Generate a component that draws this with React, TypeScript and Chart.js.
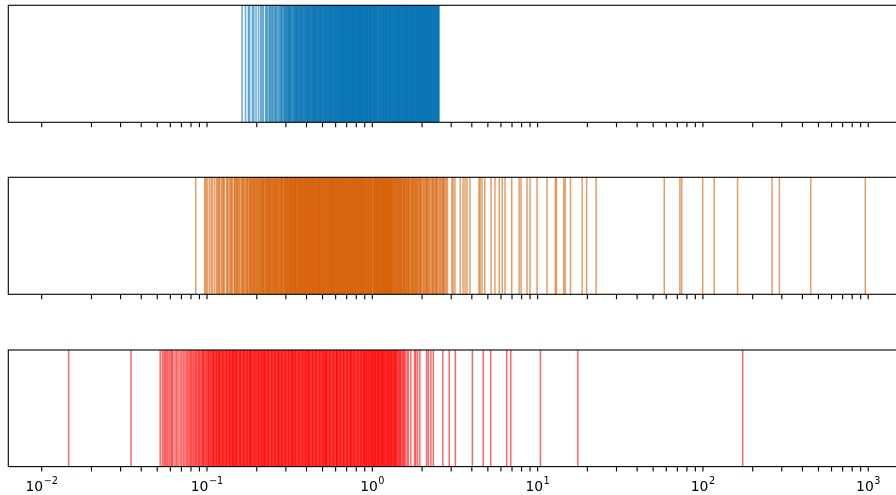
import React, { useEffect, useRef } from "react";
import { Chart, registerables } from "chart.js";

Chart.register(...registerables);

// ---- axis limits & ticks ----
const X_MIN = 0.00628;
const X_MAX = 1669;
const MAJOR_TICKS = [0.01, 0.1, 1, 10, 100, 1000];
const MAJOR_EXPONENTS = ["\u22122", "\u22121", "0", "1", "2", "3"];
const MINOR_MULTIPLIERS = [2, 3, 4, 5, 6, 7, 8, 9];
const MINOR_DECADES = [0.01, 0.1, 1, 10, 100];

// ---- event data ----
const blueEvents = [
  0.163, 0.171, 0.178, 0.181, 0.188, 0.192, 0.205, 0.211, 0.219, 0.226, 0.233, 0.238, 0.244, 0.251,
  0.256, 0.262, 0.271, 0.279, 0.284, 0.292, 0.297, 0.305, 0.311, 0.318, 0.323, 0.331, 0.337, 0.342,
  0.349, 0.356, 0.361, 0.368, 0.374, 0.379, 0.386, 0.393, 0.401, 0.408, 0.412, 0.419, 0.427, 0.433,
  0.441, 0.447, 0.452, 0.461, 0.468, 0.473, 0.482, 0.489, 0.494, 0.503, 0.511, 0.518, 0.524, 0.533,
  0.541, 0.547, 0.556, 0.562, 0.571, 0.578, 0.586, 0.593, 0.601, 0.612, 0.619, 0.627, 0.634, 0.643,
  0.651, 0.658, 0.667, 0.676, 0.684, 0.692, 0.703, 0.711, 0.719, 0.728, 0.737, 0.745, 0.756, 0.764,
  0.773, 0.781, 0.792, 0.801, 0.812, 0.823, 0.831, 0.842, 0.853, 0.861, 0.872, 0.884, 0.893, 0.905,
  0.917, 0.926, 0.938, 0.951, 0.962, 0.974, 0.985, 0.997, 1.01, 1.03, 1.04, 1.06, 1.07, 1.09, 1.11,
  1.12, 1.14, 1.16, 1.17, 1.19, 1.21, 1.22, 1.24, 1.26, 1.28, 1.29, 1.31, 1.33, 1.35, 1.37, 1.39,
  1.41, 1.43, 1.45, 1.47, 1.49, 1.52, 1.54, 1.56, 1.58, 1.61, 1.63, 1.65, 1.68, 1.71, 1.73, 1.76,
  1.78, 1.81, 1.84, 1.86, 1.89, 1.92, 1.95, 1.98, 2.01, 2.04, 2.07, 2.11, 2.14, 2.17, 2.21, 2.24,
  2.28, 2.31, 2.35, 2.39, 2.43, 2.47, 2.51, 2.53,
  0.288, 0.301, 0.314, 0.327, 0.345, 0.352, 0.365, 0.371, 0.383, 0.397, 0.404, 0.415, 0.423, 0.436,
  0.444, 0.457, 0.464, 0.478, 0.486, 0.498, 0.507, 0.515, 0.528, 0.537, 0.551, 0.559, 0.567, 0.582,
  0.589, 0.597, 0.606, 0.615, 0.623, 0.638, 0.647, 0.655, 0.663, 0.672, 0.681, 0.688, 0.697, 0.707,
  0.715, 0.724, 0.732, 0.741, 0.751, 0.76, 0.769, 0.777, 0.786, 0.796, 0.806, 0.817, 0.827, 0.836,
  0.847, 0.857, 0.866, 0.878, 0.889, 0.899, 0.911, 0.921, 0.932, 0.944, 0.956, 0.968, 0.979, 0.991,
  1.005, 1.02, 1.035, 1.05, 1.065, 1.08, 1.1, 1.115, 1.13, 1.15, 1.165, 1.18, 1.2, 1.215, 1.23, 1.25,
  1.27, 1.285, 1.3, 1.32, 1.34, 1.36, 1.38, 1.4, 1.42, 1.44, 1.46, 1.48, 1.505, 1.53, 1.55, 1.57,
  1.595, 1.62, 1.64, 1.665, 1.69, 1.72, 1.745, 1.77, 1.795, 1.825, 1.85, 1.875, 1.905, 1.935, 1.965,
  1.995, 2.025, 2.055, 2.09, 2.125, 2.155, 2.19, 2.225, 2.26, 2.295, 2.33, 2.37, 2.41, 2.45, 2.49,
  2.52,
  0.198, 0.215, 0.229, 0.241, 0.248, 0.259, 0.266, 0.275, 0.282, 0.295, 0.303, 0.309, 0.316, 0.321,
  0.334, 0.339, 0.347, 0.354, 0.363, 0.376, 0.389, 0.395, 0.406, 0.417, 0.429, 0.439, 0.449, 0.455,
  0.471, 0.484, 0.492, 0.509, 0.521, 0.531, 0.544, 0.553, 0.565, 0.574, 0.591, 0.609, 0.631, 0.649,
  0.669, 0.694, 0.721, 0.748, 0.775, 0.803, 0.838, 0.869, 0.902, 0.935, 0.971, 1.015, 1.045, 1.075,
  1.105, 1.135, 1.175, 1.205, 1.245, 1.275, 1.315, 1.345, 1.385, 1.415, 1.455, 1.485, 1.515, 1.545,
  1.575, 1.605, 1.635, 1.67, 1.7, 1.735, 1.765, 1.8, 1.835, 1.865, 1.895, 1.925, 1.96, 1.99, 2.02,
  2.06, 2.1, 2.135, 2.165, 2.2, 2.235, 2.27, 2.305, 2.345, 2.38, 2.42, 2.46, 2.5,
];

const orangeEvents = [
  0.0855, 0.0968, 0.0985, 0.1002, 0.1031, 0.1058, 0.1079, 0.111, 0.114, 0.116, 0.119, 0.122, 0.124,
  0.127, 0.131, 0.134, 0.137, 0.139, 0.142, 0.146, 0.149, 0.151, 0.154, 0.158, 0.161, 0.165, 0.168,
  0.171, 0.176, 0.179, 0.183, 0.186, 0.19, 0.193, 0.197, 0.201, 0.204, 0.209, 0.212, 0.216, 0.219,
  0.223, 0.227, 0.231, 0.236, 0.24, 0.243, 0.248, 0.252, 0.256, 0.261, 0.265, 0.27, 0.274, 0.279,
  0.283, 0.288, 0.292, 0.297, 0.302, 0.306, 0.311, 0.316, 0.321, 0.325, 0.331, 0.336, 0.341, 0.345,
  0.351, 0.356, 0.362, 0.367, 0.372, 0.378, 0.384, 0.389, 0.395, 0.401, 0.407, 0.413, 0.419, 0.425,
  0.431, 0.437, 0.444, 0.45, 0.453, 0.456, 0.463, 0.468, 0.47, 0.477, 0.483, 0.486, 0.49, 0.497,
  0.501, 0.505, 0.512, 0.519, 0.523, 0.527, 0.534, 0.538, 0.542, 0.55, 0.558, 0.561, 0.566, 0.574,
  0.579, 0.582, 0.591, 0.599, 0.603, 0.608, 0.617, 0.621, 0.626, 0.635, 0.644, 0.648, 0.653, 0.663,
  0.668, 0.672, 0.682, 0.692, 0.697, 0.702, 0.712, 0.717, 0.722, 0.733, 0.743, 0.748, 0.754, 0.765,
  0.771, 0.776, 0.787, 0.799, 0.804, 0.81, 0.822, 0.828, 0.834, 0.846, 0.858, 0.864, 0.871, 0.883,
  0.89, 0.896, 0.909, 0.922, 0.928, 0.936, 0.949, 0.957, 0.963, 0.977, 0.991, 0.995, 1.01, 1.02,
  1.04, 1.05, 1.07, 1.08, 1.1, 1.12, 1.13, 1.15, 1.17, 1.19, 1.21, 1.23, 1.25, 1.27, 1.29, 1.31,
  1.33, 1.35, 1.38, 1.4, 1.43, 1.45, 1.48, 1.51, 1.54, 1.57, 1.6, 1.64, 1.67, 1.71, 1.75, 1.8, 1.84,
  1.89, 1.93, 1.98, 2.04, 2.09, 2.15, 2.21, 2.28, 2.35, 2.42, 2.5, 2.58, 2.66, 2.75, 2.85, 3.03,
  3.08, 3.16, 3.4, 3.54, 3.64, 3.74, 3.9, 4.42, 4.49, 4.61, 4.79, 5.23, 5.52, 5.86, 6.11, 6.35,
  6.97, 7.73, 7.94, 8.63, 9.0, 9.92, 11.4, 12.8, 13.0, 14.4, 14.7, 15.8, 18.6, 19.8, 22.6, 58.4,
  72.6, 74.4, 99.7, 117, 162, 262, 290, 449, 960,
  0.152, 0.163, 0.173, 0.181, 0.188, 0.195, 0.199, 0.207, 0.214, 0.221, 0.229, 0.234, 0.238, 0.245,
  0.25, 0.258, 0.263, 0.268, 0.277, 0.281, 0.286, 0.294, 0.299, 0.304, 0.309, 0.314, 0.319, 0.323,
  0.328, 0.333, 0.338, 0.343, 0.348, 0.353, 0.359, 0.364, 0.37, 0.375, 0.381, 0.387, 0.392, 0.398,
  0.404, 0.41, 0.416, 0.422, 0.428, 0.434, 0.441, 0.447, 0.459, 0.466, 0.473, 0.48, 0.493, 0.508,
  0.515, 0.531, 0.546, 0.553, 0.569, 0.577, 0.587, 0.595, 0.612, 0.63, 0.639, 0.657, 0.677, 0.687,
  0.707, 0.727, 0.738, 0.759, 0.781, 0.793, 0.816, 0.84, 0.852, 0.877, 0.902, 0.915, 0.942, 0.97,
  0.984, 1.015, 1.03, 1.045, 1.06, 1.075, 1.09, 1.11, 1.14, 1.16, 1.18, 1.2, 1.22, 1.24, 1.26, 1.28,
  1.3, 1.32, 1.36, 1.39, 1.42, 1.47, 1.5, 1.55, 1.59, 1.62, 1.66, 1.73, 1.77, 1.82, 1.87, 1.95, 2.01,
  2.12, 2.18, 2.31, 2.39, 2.46, 2.62, 2.71,
  0.118, 0.126, 0.133, 0.141, 0.147, 0.156, 0.166, 0.175, 0.184, 0.192, 0.203, 0.211, 0.218, 0.226,
  0.233, 0.242, 0.254, 0.26, 0.272, 0.285, 0.296, 0.307, 0.318, 0.33, 0.342, 0.355, 0.368, 0.38,
  0.393, 0.406, 0.42, 0.435, 0.452, 0.475, 0.495, 0.517, 0.54, 0.563, 0.585, 0.61, 0.633, 0.66,
  0.685, 0.71, 0.736, 0.762, 0.79, 0.82, 0.85, 0.88, 0.912, 0.945, 0.98, 1.025, 1.055, 1.085, 1.105,
  1.125, 1.145, 1.165, 1.185, 1.205, 1.225, 1.245, 1.265, 1.285, 1.305, 1.34, 1.37, 1.41, 1.44,
  1.46, 1.49, 1.53, 1.56, 1.61, 1.65, 1.69, 1.74, 1.79, 1.85, 1.91, 1.96, 2.06, 2.14, 2.24, 2.33,
  2.45, 2.55, 2.69, 2.8,
];

const redEvents = [
  0.01456, 0.0347, 0.0521, 0.0537, 0.0558, 0.0579, 0.0605, 0.0622, 0.0655, 0.0687, 0.0719, 0.0751,
  0.0778, 0.0792, 0.0815, 0.0842, 0.0866, 0.0901, 0.0932, 0.0958, 0.0984, 0.101, 0.104, 0.106,
  0.109, 0.111, 0.114, 0.117, 0.119, 0.122, 0.125, 0.128, 0.131, 0.134, 0.137, 0.14, 0.143, 0.146,
  0.147, 0.15, 0.153, 0.157, 0.16, 0.164, 0.168, 0.171, 0.175, 0.179, 0.182, 0.183, 0.187, 0.191,
  0.196, 0.2, 0.205, 0.209, 0.214, 0.219, 0.221, 0.224, 0.229, 0.234, 0.239, 0.245, 0.25, 0.256,
  0.262, 0.268, 0.27, 0.274, 0.28, 0.286, 0.293, 0.299, 0.306, 0.313, 0.32, 0.327, 0.33, 0.335,
  0.342, 0.35, 0.358, 0.366, 0.374, 0.383, 0.391, 0.4, 0.409, 0.41, 0.419, 0.428, 0.438, 0.448,
  0.458, 0.468, 0.479, 0.49, 0.501, 0.512, 0.52, 0.524, 0.536, 0.548, 0.56, 0.573, 0.586, 0.599,
  0.61, 0.613, 0.627, 0.641, 0.656, 0.67, 0.686, 0.701, 0.717, 0.733, 0.74, 0.75, 0.767, 0.784,
  0.802, 0.82, 0.839, 0.858, 0.877, 0.897, 0.9, 0.917, 0.938, 0.96, 0.982, 1.0, 1.03, 1.05, 1.08,
  1.11, 1.14, 1.17, 1.21, 1.24, 1.28, 1.32, 1.37, 1.41, 1.46, 1.49, 1.56, 1.65, 1.71, 1.8, 1.83,
  1.88, 1.94, 2.13, 2.18, 2.26, 2.34, 2.67, 2.92, 3.18, 4.03, 4.69, 5.2, 6.5, 6.88, 10.4, 17.5, 174,
  0.0893, 0.0947, 0.0995, 0.1025, 0.1075, 0.1102, 0.1125, 0.1155, 0.118, 0.1205, 0.1235, 0.1265,
  0.1295, 0.1325, 0.1355, 0.1385, 0.1415, 0.1445, 0.1485, 0.1515, 0.155, 0.1585, 0.162, 0.166,
  0.1695, 0.173, 0.177, 0.181, 0.185, 0.189, 0.1935, 0.198, 0.2025, 0.207, 0.2115, 0.2165, 0.2215,
  0.2265, 0.2315, 0.2365, 0.242, 0.2475, 0.253, 0.259, 0.265, 0.271, 0.277, 0.283, 0.2895, 0.296,
  0.3025, 0.3095, 0.3165, 0.3235, 0.331, 0.3385, 0.346, 0.354, 0.362, 0.37, 0.3785, 0.387, 0.3955,
  0.4045, 0.4135, 0.4235, 0.433, 0.443, 0.453, 0.463, 0.4735, 0.4845, 0.4955, 0.5065, 0.518, 0.53,
  0.542, 0.554, 0.5665, 0.5795, 0.5925, 0.606, 0.62, 0.634, 0.6485, 0.663, 0.678, 0.6935, 0.709,
  0.725, 0.7415, 0.7585, 0.7755, 0.793, 0.811, 0.8295, 0.8485, 0.8675, 0.887, 0.907, 0.927, 0.949,
  0.971, 0.993, 1.015, 1.04, 1.065, 1.095, 1.125, 1.155, 1.19, 1.225, 1.26, 1.3, 1.345, 1.39,
  0.0549, 0.0568, 0.0592, 0.0614, 0.0641, 0.0668, 0.0702, 0.0735, 0.0764, 0.0803, 0.0829, 0.0855,
  0.0882, 0.0917, 0.0945, 0.0971, 0.1018, 0.1052, 0.1088, 0.1138, 0.1192, 0.1248, 0.1308, 0.137,
  0.1435, 0.151, 0.1585, 0.1665, 0.175, 0.184, 0.194, 0.2035, 0.2135, 0.224, 0.235, 0.2465, 0.258,
  0.271, 0.284, 0.298, 0.312, 0.327, 0.343, 0.36, 0.378, 0.396, 0.415, 0.436, 0.457, 0.48, 0.503,
  0.528, 0.554, 0.581, 0.61, 0.64, 0.672, 0.705, 0.74, 0.776, 0.815, 0.855, 0.893, 0.925, 0.955,
  0.988, 1.01, 1.025, 1.045, 1.07, 1.09, 1.1, 1.13, 1.15, 1.16, 1.18, 1.2, 1.23, 1.25, 1.27, 1.29,
  1.31, 1.34, 1.36, 1.38, 1.4, 1.43, 1.45, 1.48, 1.52, 1.54, 1.58, 1.62,
];

const COLORS = ["rgba(0,114,178,0.6)", "rgba(213,94,0,0.6)", "rgba(255,0,0,0.6)"];

const PANELS = [
  { data: blueEvents, color: COLORS[0], top: 5.3, bottom: 122.3, labels: false },
  { data: orangeEvents, color: COLORS[1], top: 177.3, bottom: 294.3, labels: false },
  { data: redEvents, color: COLORS[2], top: 350, bottom: 466.6, labels: true },
];

// Canvas is larger than the page and shifted so Chart.js's point-overflow
// minimum padding never squeezes the plot area.
const OFF = 80;
const PAGE_W = 896;
const PAGE_H = 495;
const AREA_LEFT = 8.3;
const AREA_RIGHT = 905;
const CANVAS_W = AREA_RIGHT + 2 * OFF;
const CANVAS_H = PAGE_H + 2 * OFF;
const TICK_LEN = 4.9;

const framePlugin = {
  id: "frame",
  afterDraw(chart: any, _args: any, opts: any) {
    const { ctx, chartArea: a } = chart;
    const x = chart.scales.x;
    ctx.save();
    ctx.strokeStyle = "#000";
    ctx.lineWidth = 1.1;
    ctx.strokeRect(a.left, a.top, a.right - a.left, a.bottom - a.top);
    const ticks: number[] = [...MAJOR_TICKS];
    for (const d of MINOR_DECADES) for (const m of MINOR_MULTIPLIERS) ticks.push(d * m);
    ctx.beginPath();
    for (const t of ticks) {
      if (t < X_MIN || t > X_MAX) continue;
      const px = x.getPixelForValue(t);
      ctx.moveTo(px, a.bottom);
      ctx.lineTo(px, a.bottom + TICK_LEN);
    }
    ctx.stroke();
    if (opts && opts.labels) {
      ctx.fillStyle = "#000";
      ctx.textBaseline = "alphabetic";
      ctx.textAlign = "left";
      const bigFont = "13.9px 'DejaVu Sans'";
      const smallFont = "9.7px 'DejaVu Sans'";
      MAJOR_TICKS.forEach((t, i) => {
        const px = x.getPixelForValue(t);
        ctx.font = bigFont;
        const w1 = ctx.measureText("10").width;
        ctx.font = smallFont;
        const w2 = ctx.measureText(MAJOR_EXPONENTS[i]).width;
        const start = px - (w1 + w2 + 0.5) / 2;
        const base = a.bottom + 24.2;
        ctx.font = bigFont;
        ctx.fillText("10", start, base);
        ctx.font = smallFont;
        ctx.fillText(MAJOR_EXPONENTS[i], start + w1 + 0.5, base - 7);
      });
    }
    ctx.restore();
  },
};

function Panel({ panel }: { panel: (typeof PANELS)[number] }) {
  const ref = useRef<HTMLCanvasElement | null>(null);
  useEffect(() => {
    if (!ref.current) return;
    const r = (panel.bottom - panel.top) / 2;
    const chart = new Chart(ref.current, {
      type: "scatter",
      data: {
        datasets: [
          {
            data: panel.data.map((v) => ({ x: v, y: 0.5 })),
            borderColor: panel.color,
            backgroundColor: panel.color,
            pointStyle: "line",
            rotation: 90,
            pointRadius: r,
            pointHoverRadius: r,
            pointBorderWidth: 1.5,
            showLine: false,
          } as any,
        ],
      },
      options: {
        responsive: false,
        maintainAspectRatio: false,
        animation: false,
        devicePixelRatio: 1,
        events: [],
        layout: {
          padding: {
            left: AREA_LEFT + OFF,
            right: OFF,
            top: panel.top + OFF,
            bottom: PAGE_H - panel.bottom + OFF,
          },
        },
        scales: {
          x: { type: "logarithmic", min: X_MIN, max: X_MAX, display: false },
          y: { type: "linear", min: 0, max: 1, display: false },
        },
        plugins: {
          legend: { display: false },
          tooltip: { enabled: false },
          frame: { labels: panel.labels },
        } as any,
      },
      plugins: [framePlugin],
    });
    return () => chart.destroy();
  }, [panel]);
  return (
    <canvas
      ref={ref}
      width={CANVAS_W}
      height={CANVAS_H}
      style={{ position: "absolute", left: -OFF, top: -OFF, width: CANVAS_W, height: CANVAS_H }}
    />
  );
}

export default function App() {
  return (
    <div
      style={{
        position: "fixed",
        left: 0,
        top: 0,
        width: PAGE_W,
        height: PAGE_H,
        overflow: "hidden",
        background: "#fff",
      }}
    >
      {PANELS.map((p, i) => (
        <Panel key={i} panel={p} />
      ))}
    </div>
  );
}
